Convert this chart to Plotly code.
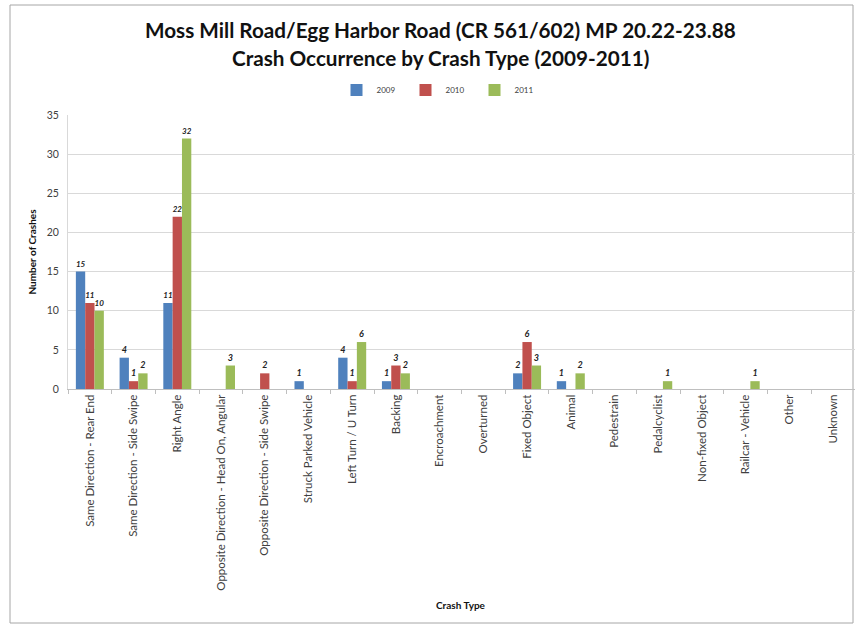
import plotly.graph_objects as go

categories = [
    "Same Direction - Rear End", "Same Direction - Side Swipe", "Right Angle",
    "Opposite Direction - Head On, Angular", "Opposite Direction - Side Swipe",
    "Struck Parked Vehicle", "Left Turn / U Turn", "Backing", "Encroachment",
    "Overturned", "Fixed Object", "Animal", "Pedestrain", "Pedalcyclist",
    "Non-fixed Object", "Railcar - Vehicle", "Other", "Unknown",
]
years = ["2009", "2010", "2011"]
v2009 = [15, 4, 11, 0, 0, 1, 4, 1, 0, 0, 2, 1, 0, 0, 0, 0, 0, 0]
v2010 = [11, 1, 22, 0, 2, 0, 1, 3, 0, 0, 6, 0, 0, 0, 0, 0, 0, 0]
v2011 = [10, 2, 32, 3, 0, 0, 6, 2, 0, 0, 3, 2, 0, 1, 0, 1, 0, 0]
y_ticks = [0, 5, 10, 15, 20, 25, 30, 35]
title_lines = ["Moss Mill Road/Egg Harbor Road (CR 561/602) MP 20.22-23.88",
               "Crash Occurrence by Crash Type (2009-2011)"]

colors = ["#4F81BD", "#C0504D", "#9BBB59"]
FONT = "Lato"

fig = go.Figure()
for name, vals, c in zip(years, [v2009, v2010, v2011], colors):
    fig.add_trace(go.Bar(
        x=categories, y=vals, name=name, marker=dict(color=c, line=dict(width=0)),
        text=[str(v) if v > 0 else "" for v in vals],
        textposition="outside", cliponaxis=False,
        textfont=dict(family=FONT, size=9, color="#222", weight="bold", style="italic"),
    ))

W, H = 855, 626
L, R, T, B = 68, 0, 115, 237
pw, ph = W - L - R, H - T - B

def px_x(x):
    return (x - L) / pw

def px_y(y):
    return (T + ph - y) / ph

fig.update_layout(
    width=W, height=H,
    margin=dict(l=L, r=R, t=T, b=B),
    paper_bgcolor="white", plot_bgcolor="white",
    barmode="group", bargap=0.36, bargroupgap=0,
    font=dict(family=FONT, color="#404040"),
    legend=dict(
        orientation="h", x=px_x(440), xanchor="center", y=px_y(90), yanchor="middle",
        font=dict(family=FONT, size=8, color="#404040"),
        itemwidth=30, entrywidth=24, entrywidthmode="pixels",
    ),
    showlegend=True,
    xaxis=dict(
        tickangle=-90, tickfont=dict(family=FONT, size=11.5, color="#404040"),
        showline=True, linecolor="#BFBFBF", linewidth=1,
        ticks="outside", tickson="boundaries", ticklen=4, tickcolor="#BFBFBF",
        automargin=False,
    ),
    yaxis=dict(
        range=[0, 35], tickvals=y_ticks, tickfont=dict(family=FONT, size=10.5, color="#404040"),
        showgrid=True, gridcolor="#D9D9D9", gridwidth=1,
        showline=True, linecolor="#D9D9D9", zeroline=False,
        ticks="", ticklabelstandoff=6,
        title=dict(text="Number of Crashes", font=dict(family=FONT, size=10, color="#111", weight="bold"), standoff=8),
        automargin=False,
    ),
)

for txt, yy in zip(title_lines, [30, 58]):
    fig.add_annotation(text=txt, xref="paper", yref="paper", x=px_x(440), y=px_y(yy),
                       showarrow=False, xanchor="center", yanchor="middle",
                       font=dict(family=FONT, size=20.7, color="#111", weight="bold"))

fig.add_annotation(text="Crash Type", xref="paper", yref="paper",
                   x=px_x(461), y=px_y(605), showarrow=False,
                   font=dict(family=FONT, size=10, color="#111", weight="bold"),
                   xanchor="center", yanchor="middle")

# outer chart border
fig.add_shape(type="rect", xref="paper", yref="paper",
              x0=px_x(10), x1=px_x(853), y0=px_y(623), y1=px_y(5),
              line=dict(color="#A6A6A6", width=1), fillcolor="rgba(0,0,0,0)", layer="below")

fig.write_html("out.html", config={"displayModeBar": False},
               post_script="document.body.style.margin='0';document.body.style.overflow='hidden';")
